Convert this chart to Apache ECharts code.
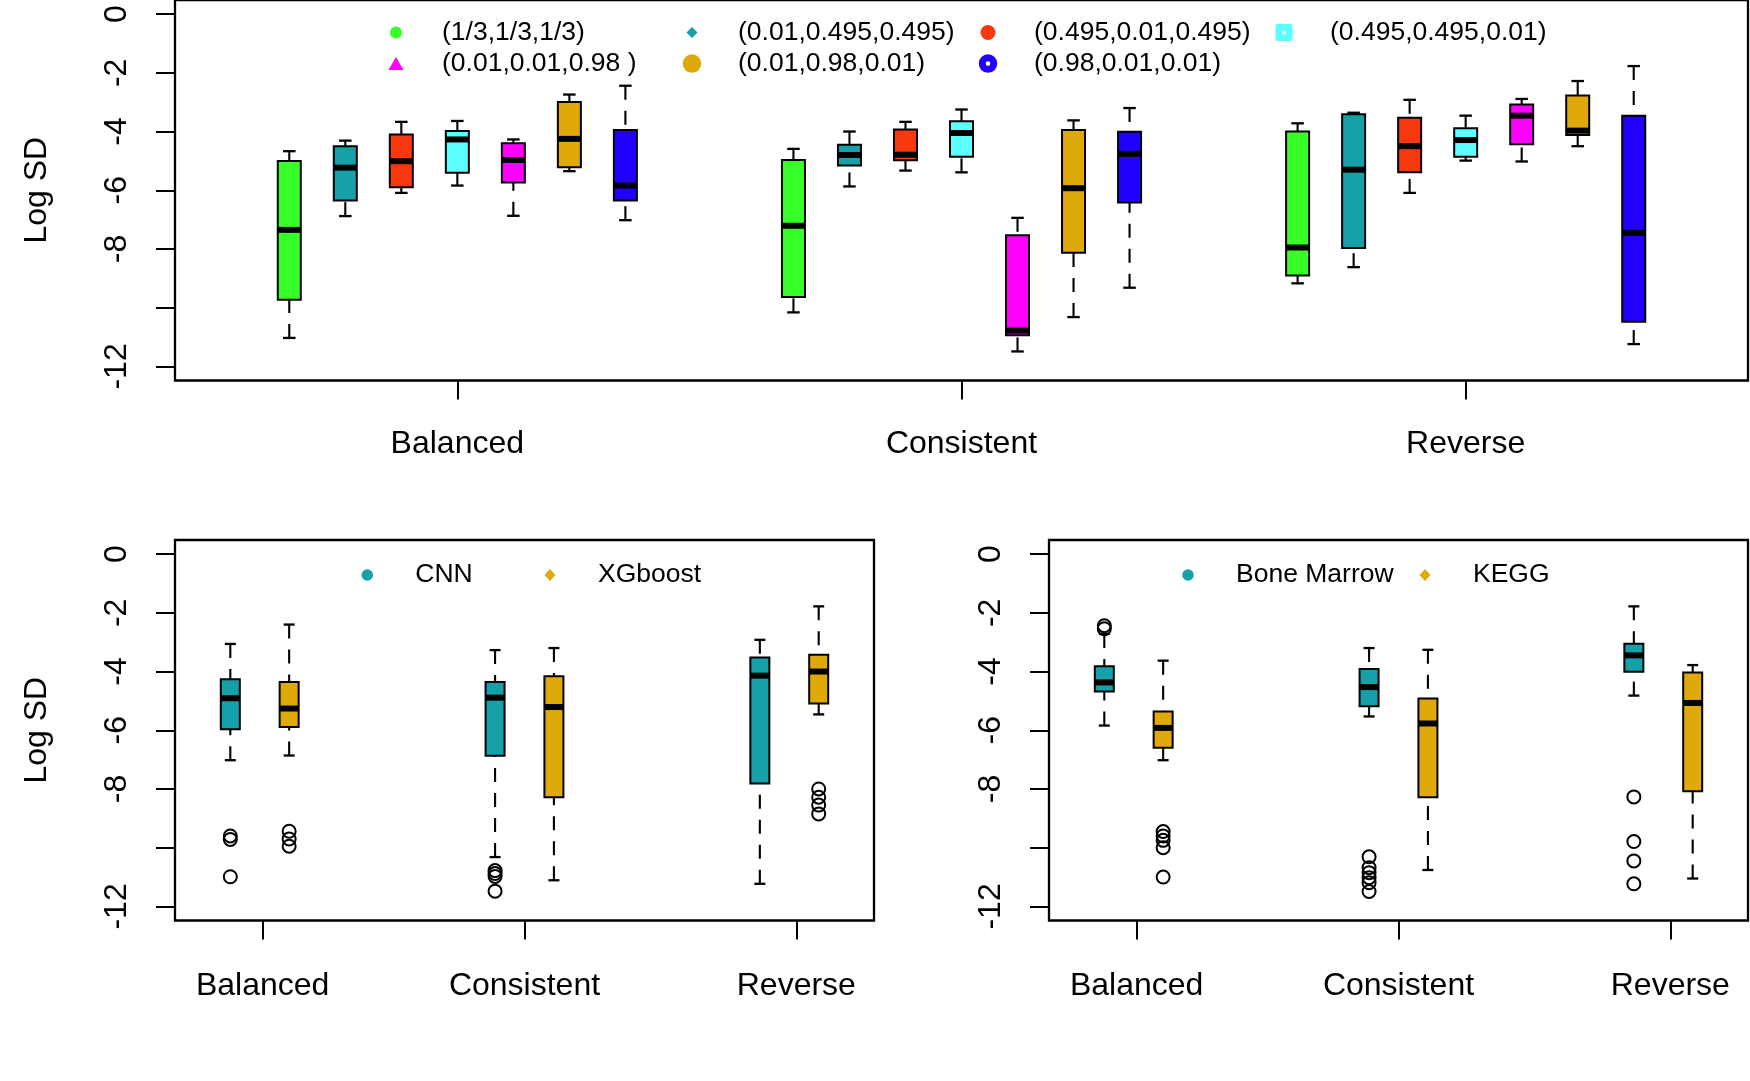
<!DOCTYPE html>
<html>
<head>
<meta charset="utf-8">
<script src="https://cdn.jsdelivr.net/npm/echarts@6/dist/echarts.min.js"></script>
<style>
html,body{margin:0;padding:0;background:#fff;}
#chart{width:1750px;height:1081px;}
</style>
</head>
<body>
<div id="chart"></div>
<script>
// ---------------- DATA ----------------
const groups = ['Balanced', 'Consistent', 'Reverse'];
const yTickValues = [0, -2, -4, -6, -8, -10, -12];
const yLabelValues = [0, -2, -4, -6, -8, -12];

// Top panel: weight settings (legend labels) and colours
const weightNames = ['(1/3,1/3,1/3)', '(0.01,0.495,0.495)', '(0.495,0.01,0.495)', '(0.495,0.495,0.01)',
                     '(0.01,0.01,0.98 )', '(0.01,0.98,0.01)', '(0.98,0.01,0.01)'];
const weightColors = ['#38FF28', '#15A0AA', '#F8380E', '#5BFFFF', '#FF00FF', '#E0A90A', '#2200FF'];

// [min, Q1, median, Q3, max] for Balanced, Consistent, Reverse
const w_third     = [[-11.03, -9.73, -7.35, -5.00, -4.67], [-10.16, -9.64, -7.21, -4.97, -4.59], [-9.17, -8.90, -7.95, -4.00, -3.72]];
const w_01_495    = [[-6.88, -6.35, -5.23, -4.50, -4.31], [-5.87, -5.16, -4.80, -4.45, -4.00], [-8.62, -7.97, -5.30, -3.41, -3.36]];
const w_495_01    = [[-6.09, -5.90, -5.01, -4.10, -3.67], [-5.33, -4.98, -4.79, -3.93, -3.67], [-6.09, -5.39, -4.50, -3.53, -2.92]];
const w_495_495   = [[-5.84, -5.40, -4.27, -3.98, -3.64], [-5.39, -4.86, -4.05, -3.65, -3.25], [-4.99, -4.86, -4.29, -3.89, -3.46]];
const w_01_01_98  = [[-6.87, -5.74, -4.97, -4.40, -4.27], [-11.49, -10.94, -10.78, -7.53, -6.94], [-5.02, -4.43, -3.46, -3.08, -2.89]];
const w_01_98_01  = [[-5.35, -5.22, -4.25, -2.99, -2.74], [-10.32, -8.13, -5.93, -3.95, -3.62], [-4.50, -4.12, -3.97, -2.77, -2.28]];
const w_98_01_01  = [[-7.02, -6.35, -5.84, -3.95, -2.44], [-9.32, -6.42, -4.76, -4.01, -3.20], [-11.24, -10.48, -7.45, -3.46, -1.77]];
const topStats = [w_third, w_01_495, w_495_01, w_495_495, w_01_01_98, w_01_98_01, w_98_01_01];

// Bottom-left: CNN vs XGboost
const cnnStats = [[-7.02, -5.97, -4.91, -4.26, -3.06], [-10.32, -6.87, -4.89, -4.36, -3.27], [-11.23, -7.81, -4.14, -3.52, -2.92]];
const xgbStats = [[-6.86, -5.89, -5.26, -4.36, -2.40], [-11.11, -8.28, -5.21, -4.16, -3.20], [-5.46, -5.09, -4.00, -3.43, -1.78]];
const cnnOutliers = [[-9.60, -9.72, -10.99], [-10.78, -10.88, -10.98, -11.48], []];
const xgbOutliers = [[-9.44, -9.70, -9.95], [], [-8.00, -8.28, -8.55, -8.85]];

// Bottom-right: Bone Marrow vs KEGG
const bmStats   = [[-5.84, -4.68, -4.37, -3.82, -2.72], [-5.53, -5.18, -4.53, -3.91, -3.20], [-4.82, -4.01, -3.45, -3.05, -1.78]];
const keggStats = [[-7.02, -6.60, -5.92, -5.36, -3.63], [-10.76, -8.28, -5.77, -4.92, -3.26], [-11.05, -8.08, -5.07, -4.03, -3.78]];
const bmOutliers   = [[-2.44, -2.54], [-10.31, -10.68, -10.85, -11.02, -11.19, -11.49], [-8.27, -9.79, -10.45, -11.23]];
const keggOutliers = [[-9.45, -9.60, -9.75, -10.00, -11.00], [], []];

const bottomColors = ['#15A0AA', '#E0A90A'];

// ---------------- LAYOUT HELPERS ----------------
const FONT = '"Liberation Sans", Arial, Helvetica, sans-serif';
const topTickPos = [4, 13, 22];
const botTickPos = [1.55, 6.0, 10.62];
const topPos = (g, i) => g * 9 + i + 1;
const botPos = (g, s) => 1 + g * 4.5 + s;

function makeBox(boxW, capW, medH) {
  return function (params, api) {
    const x = api.value(0);
    const c = api.visual('color');
    const p = k => api.coord([x, api.value(k)]);
    const pMin = p(1), pQ1 = p(2), pMed = p(3), pQ3 = p(4), pMax = p(5);
    const cx = pMin[0];
    const dashed = { stroke: '#000', lineWidth: 2.1, lineDash: [14, 11], fill: null };
    const solid = { stroke: '#000', lineWidth: 2.3, fill: null };
    return {
      type: 'group',
      children: [
        { type: 'line', shape: { x1: cx, y1: pMax[1], x2: cx, y2: pQ3[1] }, style: dashed },
        { type: 'line', shape: { x1: cx, y1: pMin[1], x2: cx, y2: pQ1[1] }, style: dashed },
        { type: 'line', shape: { x1: cx - capW / 2, y1: pMax[1], x2: cx + capW / 2, y2: pMax[1] }, style: solid },
        { type: 'line', shape: { x1: cx - capW / 2, y1: pMin[1], x2: cx + capW / 2, y2: pMin[1] }, style: solid },
        { type: 'rect', shape: { x: cx - boxW / 2, y: pQ3[1], width: boxW, height: pQ1[1] - pQ3[1] },
          style: { fill: c, stroke: '#000', lineWidth: 2 } },
        { type: 'rect', shape: { x: cx - boxW / 2, y: pMed[1] - medH / 2, width: boxW, height: medH },
          style: { fill: '#000' } }
      ]
    };
  };
}

function boxSeries(name, color, stats, posFn, idx, boxW, capW) {
  return {
    type: 'custom', name: name, xAxisIndex: idx, yAxisIndex: idx,
    itemStyle: { color: color },
    renderItem: makeBox(boxW, capW, 6),
    encode: { x: 0, y: [1, 2, 3, 4, 5] },
    data: stats.map((s, g) => [posFn(g)].concat(s)),
    z: 3, silent: true
  };
}

function outlierSeries(name, outs, posFn, idx) {
  const d = [];
  outs.forEach((arr, g) => arr.forEach(v => d.push([posFn(g), v])));
  return {
    type: 'scatter', name: name, xAxisIndex: idx, yAxisIndex: idx,
    symbol: 'circle', symbolSize: 13,
    itemStyle: { color: 'rgba(0,0,0,0)', borderColor: '#000', borderWidth: 2, opacity: 1 },
    data: d, z: 4, silent: true
  };
}

function legendItem(name, color, icon, w, h, cx, cy, textOffset) {
  return {
    show: true, orient: 'horizontal', padding: 0, selectedMode: false,
    left: cx - w / 2, top: cy - 15,
    itemWidth: w, itemHeight: h, itemGap: 0,
    itemStyle: { borderWidth: 0 },
    data: [{ name: name, icon: icon, itemStyle: { color: color, borderWidth: 0 } }],
    textStyle: { fontFamily: FONT, fontSize: 26.5, lineHeight: 30, color: '#000',
                 padding: [0, 0, 0, textOffset - 5 - w / 2] }
  };
}

function yAxisDef(gridIndex, showName) {
  return {
    type: 'value', gridIndex: gridIndex, min: -12.48, max: 0.48,
    name: showName ? 'Log SD' : '', nameLocation: 'middle', nameRotate: 90, nameGap: 122, nameMoveOverlap: false,
    nameTextStyle: { fontFamily: FONT, fontSize: 32, color: '#000' },
    axisLine: { show: false, onZero: false },
    splitLine: { show: false },
    axisTick: { show: true, length: 19, customValues: yTickValues, lineStyle: { color: '#000', width: 2 } },
    axisLabel: { show: true, rotate: 90, margin: 42, customValues: yLabelValues,
                 fontFamily: FONT, fontSize: 32, color: '#000', formatter: v => String(v) }
  };
}

function xAxisDef(gridIndex, min, max, ticks, margin) {
  return {
    type: 'value', gridIndex: gridIndex, min: min, max: max, position: 'bottom',
    axisLine: { show: false, onZero: false },
    splitLine: { show: false },
    axisTick: { show: true, length: 19, customValues: ticks, lineStyle: { color: '#000', width: 2 } },
    axisLabel: {
      show: true, margin: margin, customValues: ticks,
      fontFamily: FONT, fontSize: 32, color: '#000',
      formatter: function (v) {
        let best = 0;
        ticks.forEach((t, i) => { if (Math.abs(t - v) < Math.abs(ticks[best] - v)) best = i; });
        return groups[best];
      }
    }
  };
}

// ---------------- SERIES ----------------
const series = [];
topStats.forEach((st, i) => {
  series.push(boxSeries(weightNames[i], weightColors[i], st, g => topPos(g, i), 0, 23, 12.5));
});
series.push(boxSeries('CNN', bottomColors[0], cnnStats, g => botPos(g, 0), 1, 19, 11));
series.push(boxSeries('XGboost', bottomColors[1], xgbStats, g => botPos(g, 1), 1, 19, 11));
series.push(outlierSeries('CNN outliers', cnnOutliers, g => botPos(g, 0), 1));
series.push(outlierSeries('XGboost outliers', xgbOutliers, g => botPos(g, 1), 1));
series.push(boxSeries('Bone Marrow', bottomColors[0], bmStats, g => botPos(g, 0), 2, 19, 11));
series.push(boxSeries('KEGG', bottomColors[1], keggStats, g => botPos(g, 1), 2, 19, 11));
series.push(outlierSeries('Bone Marrow outliers', bmOutliers, g => botPos(g, 0), 2));
series.push(outlierSeries('KEGG outliers', keggOutliers, g => botPos(g, 1), 2));

// ---------------- LEGENDS ----------------
const holeCircle = 'path://M0,10A10,10,0,1,1,20,10A10,10,0,1,1,0,10ZM7.5,10A2.5,2.5,0,1,0,12.5,10A2.5,2.5,0,1,0,7.5,10Z';
const holeSquare = 'path://M2,0H18Q20,0,20,2V18Q20,20,18,20H2Q0,20,0,18V2Q0,0,2,0ZM8,8V12H12V8Z';
const row1 = 32.5, row2 = 63.6, rowB = 575;
const legends = [
  legendItem(weightNames[0], weightColors[0], 'circle', 12, 12, 396, row1, 46),
  legendItem(weightNames[1], weightColors[1], 'diamond', 11, 11, 692, row1, 46),
  legendItem(weightNames[2], weightColors[2], 'circle', 15, 15, 988, row1, 46),
  legendItem(weightNames[3], weightColors[3], holeSquare, 17, 17, 1284, row1, 46),
  legendItem(weightNames[4], weightColors[4], 'triangle', 15, 13, 396, row2, 46),
  legendItem(weightNames[5], weightColors[5], 'circle', 18.5, 18.5, 692, row2, 46),
  legendItem(weightNames[6], weightColors[6], holeCircle, 18.5, 18.5, 988, row2, 46),
  legendItem('CNN', bottomColors[0], 'circle', 11.5, 11.5, 367.3, rowB, 48),
  legendItem('XGboost', bottomColors[1], 'diamond', 11, 12, 550, rowB, 48),
  legendItem('Bone Marrow', bottomColors[0], 'circle', 11.5, 11.5, 1188, rowB, 48),
  legendItem('KEGG', bottomColors[1], 'diamond', 11, 12, 1425, rowB, 48)
];

// ---------------- CHART ----------------
const gridStyle = { show: true, borderColor: '#000', borderWidth: 2.3, backgroundColor: 'transparent',
                    containLabel: false, outerBoundsMode: 'none' };
const option = {
  animation: false,
  backgroundColor: '#fff',
  grid: [
    Object.assign({ left: 175, top: 0, width: 1573, height: 380.5 }, gridStyle),
    Object.assign({ left: 175, top: 540, width: 699, height: 380.5 }, gridStyle),
    Object.assign({ left: 1049, top: 540, width: 699, height: 380.5 }, gridStyle)
  ],
  xAxis: [
    xAxisDef(0, -1.04, 27.04, topTickPos, 48),
    xAxisDef(1, 0.06, 11.94, botTickPos, 50),
    xAxisDef(2, 0.06, 11.94, botTickPos, 50)
  ],
  yAxis: [yAxisDef(0, true), yAxisDef(1, true), yAxisDef(2, false)],
  legend: legends,
  series: series
};

const chart = echarts.init(document.getElementById('chart'), null, { renderer: 'canvas' });
chart.setOption(option);
</script>
</body>
</html>
